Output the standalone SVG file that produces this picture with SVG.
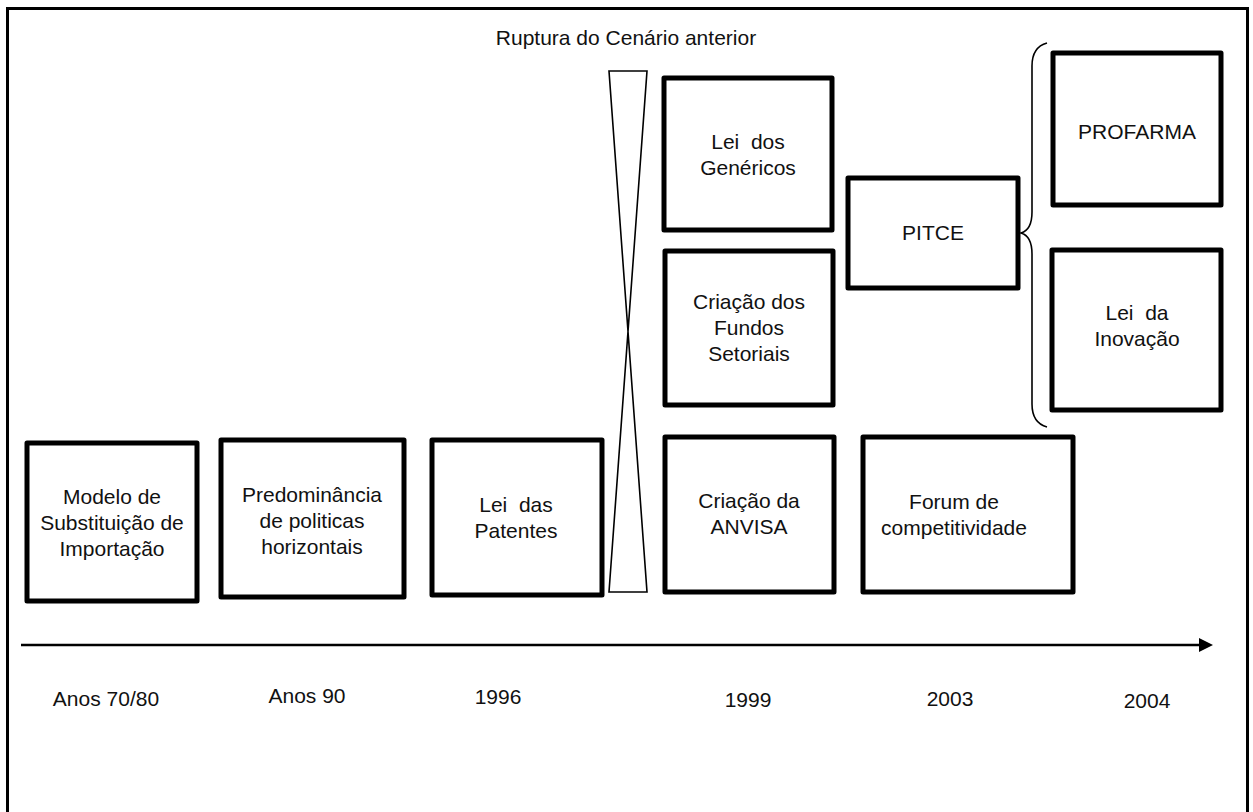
<svg xmlns="http://www.w3.org/2000/svg" width="1253" height="812" viewBox="0 0 1253 812">
<style>
.box{fill:#fff;stroke:#000;stroke-width:5;stroke-linejoin:round}
.t{font-family:"Liberation Sans",Arial,sans-serif;font-size:21px;fill:#111;text-anchor:middle;white-space:pre}
.thin{fill:none;stroke:#000;stroke-width:1.6}
</style>
<defs>
<marker id="ah" markerWidth="14" markerHeight="14" refX="0" refY="7" orient="auto" markerUnits="userSpaceOnUse">
<path d="M0,0 L14,7 L0,14 Z" fill="#000"/>
</marker>
</defs>
<rect x="0" y="0" width="1253" height="812" fill="#fff"/>
<rect id="frame" x="7.5" y="8.5" width="1240" height="820" fill="none" stroke="#000" stroke-width="3"/>
<text class="t" x="626" y="45">Ruptura do Cenário anterior</text>
<g id="rupture">
<path d="M609,71 L647,71 L609,592 L647,592 Z" fill="#fff" stroke="#000" stroke-width="1.6" stroke-linejoin="miter"/>
</g>
<g id="connectors">
<line x1="21" y1="645" x2="1199" y2="645" stroke="#000" stroke-width="2.5" marker-end="url(#ah)"/>
<path class="thin" d="M1047,43 C1036,46 1032,54 1032,66 L1032,212 C1032,225 1028,231 1021,233 C1028,235 1032,241 1032,254 L1032,404 C1032,416 1036,424 1047,427"/>
</g>
<g id="n-modelo"><rect class="box" x="27" y="443" width="170" height="158"/>
<text class="t" x="112" y="504">Modelo de</text><text class="t" x="112" y="530">Substituição de</text><text class="t" x="112" y="556">Importação</text></g>
<g id="n-predominancia"><rect class="box" x="221" y="440" width="183" height="157"/>
<text class="t" x="312" y="502">Predominância</text><text class="t" x="312" y="528">de politicas</text><text class="t" x="312" y="554">horizontais</text></g>
<g id="n-patentes"><rect class="box" x="432" y="440" width="170" height="155"/>
<text class="t" x="516" y="512">Lei  das</text><text class="t" x="516" y="538">Patentes</text></g>
<g id="n-anvisa"><rect class="box" x="665" y="437" width="169" height="155"/>
<text class="t" x="749" y="508">Criação da</text><text class="t" x="749" y="534">ANVISA</text></g>
<g id="n-forum"><rect class="box" x="863" y="437" width="210" height="155"/>
<text class="t" x="954" y="509">Forum de</text><text class="t" x="954" y="535">competitividade</text></g>
<g id="n-genericos"><rect class="box" x="664" y="78" width="168" height="152"/>
<text class="t" x="748" y="149">Lei  dos</text><text class="t" x="748" y="175">Genéricos</text></g>
<g id="n-fundos"><rect class="box" x="665" y="251" width="168" height="154"/>
<text class="t" x="749" y="309">Criação dos</text><text class="t" x="749" y="335">Fundos</text><text class="t" x="749" y="361">Setoriais</text></g>
<g id="n-pitce"><rect class="box" x="848" y="178" width="170" height="110"/>
<text class="t" x="933" y="240">PITCE</text></g>
<g id="n-profarma"><rect class="box" x="1053" y="53" width="168" height="152"/>
<text class="t" x="1137" y="139">PROFARMA</text></g>
<g id="n-inovacao"><rect class="box" x="1052" y="250" width="169" height="160"/>
<text class="t" x="1137" y="320">Lei  da</text><text class="t" x="1137" y="346">Inovação</text></g>
<g id="labels">
<text class="t" x="106" y="706">Anos 70/80</text>
<text class="t" x="307" y="703">Anos 90</text>
<text class="t" x="498" y="704">1996</text>
<text class="t" x="748" y="707">1999</text>
<text class="t" x="950" y="706">2003</text>
<text class="t" x="1147" y="708">2004</text>
</g>
</svg>
